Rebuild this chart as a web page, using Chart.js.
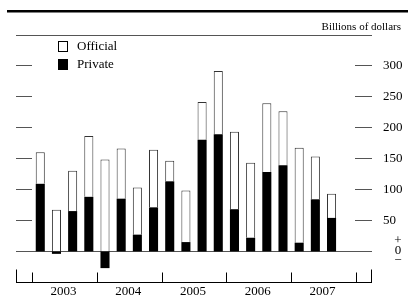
<!DOCTYPE html>
<html>
<head>
<meta charset="utf-8">
<script src="https://cdn.jsdelivr.net/npm/chart.js@4"></script>
<style>
body { margin: 0; background: #fff; }
#wrap { width: 408px; height: 300px; position: relative; }
</style>
</head>
<body>
<div id="wrap"><canvas id="myChart"></canvas></div>
<script>
var ctx = document.getElementById('myChart');

// quarterly slots, one empty slot on each end
var quarters = ['', '2003 Q1', '2003 Q2', '2003 Q3', '2003 Q4', '2004 Q1', '2004 Q2', '2004 Q3', '2004 Q4',
  '2005 Q1', '2005 Q2', '2005 Q3', '2005 Q4', '2006 Q1', '2006 Q2', '2006 Q3', '2006 Q4',
  '2007 Q1', '2007 Q2', '2007 Q3', '2007 Q4', ''];
var years = ['2003', '2004', '2005', '2006', '2007'];

var privateFlows = [null, 109, -4, 65, 88, -27, 85, 27, 71, 113, 15, 180, 189, 68, 22, 128, 139, 14, 84, 54, null, null];
var officialFlows = [null, 51, 67, 65, 98, 148, 81, 76, 93, 33, 83, 61, 102, 125, 121, 111, 87, 153, 69, 39, null, null];

var yTicks = [50, 100, 150, 200, 250, 300];

var serif = '"Liberation Serif", "DejaVu Serif", serif';

var decor = {
  id: 'decor',
  beforeDatasetsDraw: function (chart) {
    var c = chart.ctx, a = chart.chartArea, y = chart.scales.y;
    c.save();
    c.strokeStyle = '#555';
    c.lineWidth = 1;
    // rule under unit label
    c.beginPath(); c.moveTo(a.left, a.top + 0.5); c.lineTo(a.right, a.top + 0.5); c.stroke();
    // zero line
    var y0 = Math.round(y.getPixelForValue(0)) + 0.5;
    c.beginPath(); c.moveTo(a.left, y0); c.lineTo(a.right, y0); c.stroke();
    // value ticks on both sides
    yTicks.forEach(function (v) {
      var py = Math.round(y.getPixelForValue(v)) + 0.5;
      c.beginPath();
      c.moveTo(a.left, py); c.lineTo(a.left + 16, py);
      c.moveTo(a.right - 17, py); c.lineTo(a.right, py);
      c.stroke();
    });
    c.restore();
  },
  afterDraw: function (chart) {
    var c = chart.ctx, a = chart.chartArea, y = chart.scales.y, x = chart.scales.x;
    c.save();
    // heavy top line
    c.fillStyle = '#000';
    c.fillRect(7, 10, 401, 2.5);
    c.font = '11px ' + serif;
    c.textAlign = 'right';
    c.textBaseline = 'alphabetic';
    c.fillText('Billions of dollars', 401, 30);

    // right labels
    c.font = '13px ' + serif;
    c.textAlign = 'left';
    c.textBaseline = 'middle';
    yTicks.forEach(function (v) {
      c.fillText(String(v), 383, y.getPixelForValue(v));
    });
    var y0 = y.getPixelForValue(0);
    c.textAlign = 'center';
    c.fillText('+', 398, y0 - 11);
    c.fillText('0', 398, y0 - 1);
    c.fillText('\u2212', 398, y0 + 9);

    // bottom axis
    c.strokeStyle = '#000';
    c.lineWidth = 1;
    var by = Math.round(a.bottom) - 0.5;
    c.beginPath();
    c.moveTo(a.left, by); c.lineTo(a.right, by);
    c.moveTo(a.left + 0.5, by); c.lineTo(a.left + 0.5, by - 13);
    c.moveTo(a.right - 0.5, by); c.lineTo(a.right - 0.5, by - 13);
    var slot = (a.right - a.left) / quarters.length;
    for (var i = 0; i <= years.length; i++) {
      var bx = Math.round(x.getPixelForValue(1 + i * 4) - slot / 2) + 0.5;
      c.moveTo(bx, by); c.lineTo(bx, by - 10);
    }
    c.stroke();

    // year labels
    c.fillStyle = '#000';
    c.textAlign = 'center';
    c.textBaseline = 'middle';
    c.font = '13px ' + serif;
    years.forEach(function (yr, i) {
      var cx = (x.getPixelForValue(1 + i * 4) + x.getPixelForValue(4 + i * 4)) / 2;
      c.fillText(yr, cx - 1, a.bottom + 9);
    });

    // legend
    c.lineWidth = 1;
    c.strokeStyle = '#000';
    c.strokeRect(58.5, 41.5, 9, 10);
    c.fillRect(58, 59, 10, 11);
    c.textAlign = 'left';
    c.font = '13px ' + serif;
    c.fillText('Official', 77, 47);
    c.fillText('Private', 77, 65);
    c.restore();
  }
};

var myChart = new Chart(ctx, {
  type: 'bar',
  data: {
    labels: quarters,
    datasets: [{
      label: 'Private',
      data: privateFlows,
      backgroundColor: '#000',
      borderColor: '#000',
      borderWidth: 0,
      barPercentage: 0.56,
      categoryPercentage: 1
    }, {
      label: 'Official',
      data: officialFlows,
      backgroundColor: '#fff',
      borderColor: '#333',
      borderWidth: 1,
      barPercentage: 0.56,
      categoryPercentage: 1
    }]
  },
  options: {
    responsive: true,
    maintainAspectRatio: false,
    animation: false,
    layout: { padding: { left: 16, right: 36, top: 35, bottom: 17 } },
    plugins: { legend: { display: false }, tooltip: { enabled: false } },
    scales: {
      x: { stacked: true, display: false },
      y: { stacked: true, display: false, min: -51, max: 349 }
    }
  },
  plugins: [decor]
});
</script>
</body>
</html>
